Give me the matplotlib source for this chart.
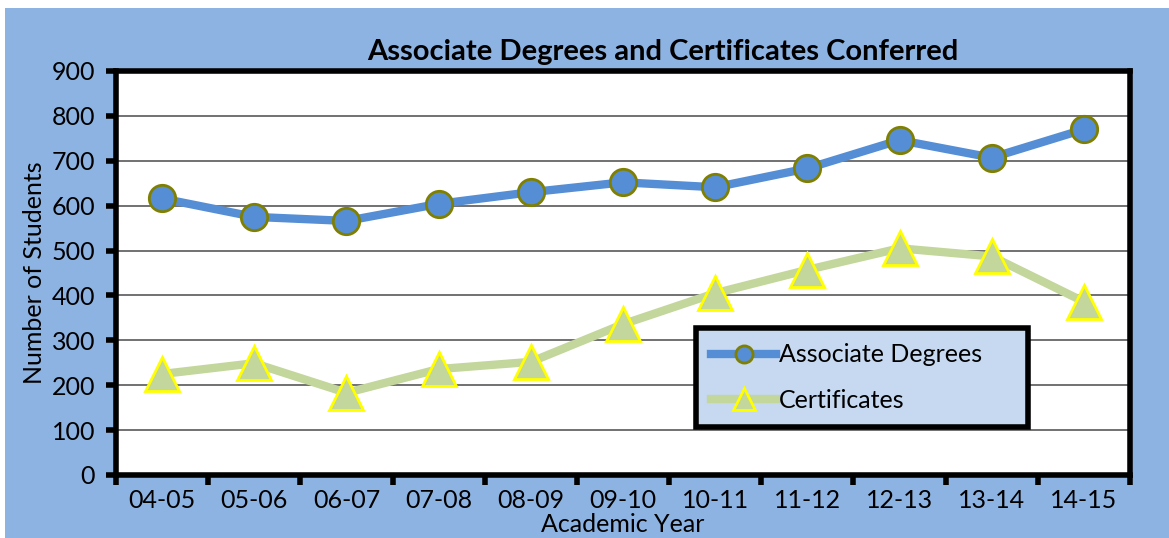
import matplotlib.pyplot as plt
from matplotlib.patches import Rectangle

# data
anos = ['04-05', '05-06', '06-07', '07-08', '08-09', '09-10',
        '10-11', '11-12', '12-13', '13-14', '14-15']
associate = [616, 575, 566, 604, 630, 652, 641, 683, 746, 707, 770]
certificates = [225, 249, 183, 236, 252, 336, 405, 457, 505, 487, 386]

plt.rcParams['font.family'] = ['Lato', 'DejaVu Sans']

fig = plt.figure(figsize=(11.69, 5.38), dpi=100)
fig.patches.append(Rectangle((5 / 1169, 0), 1, 1 - 8 / 538, transform=fig.transFigure,
                             facecolor='#8DB3E2', edgecolor='none', zorder=-10))

ax = fig.add_axes([116 / 1169, 1 - 475 / 538, (1130 - 116) / 1169, (475 - 71) / 538])
ax.set_facecolor('white')

x = list(range(len(anos)))
ax.plot(x, associate, color='#558ED5', linewidth=6, marker='o', markersize=19,
        markerfacecolor='#558ED5', markeredgecolor='#7F7F00', markeredgewidth=2,
        label='Associate Degrees', zorder=3)
ax.plot(x, certificates, color='#C3D69B', linewidth=6, marker='^', markersize=24,
        markerfacecolor='#C3D69B', markeredgecolor='#FFFF00', markeredgewidth=2,
        label='Certificates', zorder=3)

ax.set_xlim(-0.5, len(anos) - 0.5)
ax.set_ylim(0, 900)
ax.set_yticks(range(0, 901, 100))
ax.yaxis.grid(True, color='#595959', linewidth=1.2)
ax.set_axisbelow(True)

# category labels centred, ticks on the boundaries
ax.set_xticks([i - 0.5 for i in range(len(anos) + 1)])
ax.set_xticklabels([])
ax.set_xticks(x, minor=True)
ax.set_xticklabels(anos, minor=True, fontsize=18)
ax.tick_params(axis='x', which='minor', length=0, pad=10)
ax.tick_params(axis='x', which='major', direction='out', length=7, width=4, color='black')
ax.tick_params(axis='y', direction='out', length=7, width=4, color='black', labelsize=18, pad=8)

for lado in ['left', 'bottom', 'top', 'right']:
    ax.spines[lado].set_linewidth(4)
    ax.spines[lado].set_color('black')

ax.set_title('Associate Degrees and Certificates Conferred', fontsize=21,
             fontweight='bold', pad=8, x=0.539)
ax.set_ylabel('Number of Students', fontsize=18, labelpad=4)
ax.set_xlabel('Academic Year', fontsize=18, labelpad=1)

leg = ax.legend(loc='lower left', bbox_to_anchor=(0.572, 0.119, 0.327, 0.235),
                mode='expand', borderaxespad=0,
                fontsize=18, frameon=True, fancybox=False,
                handlelength=2.6, handletextpad=0.1, borderpad=0.6, labelspacing=0.9,
                markerscale=0.65)
leg.get_frame().set_facecolor('#C6D9F1')
leg.get_frame().set_edgecolor('black')
leg.get_frame().set_linewidth(4)
leg.get_frame().set_alpha(1)

fig.savefig('out.png', dpi=100)
